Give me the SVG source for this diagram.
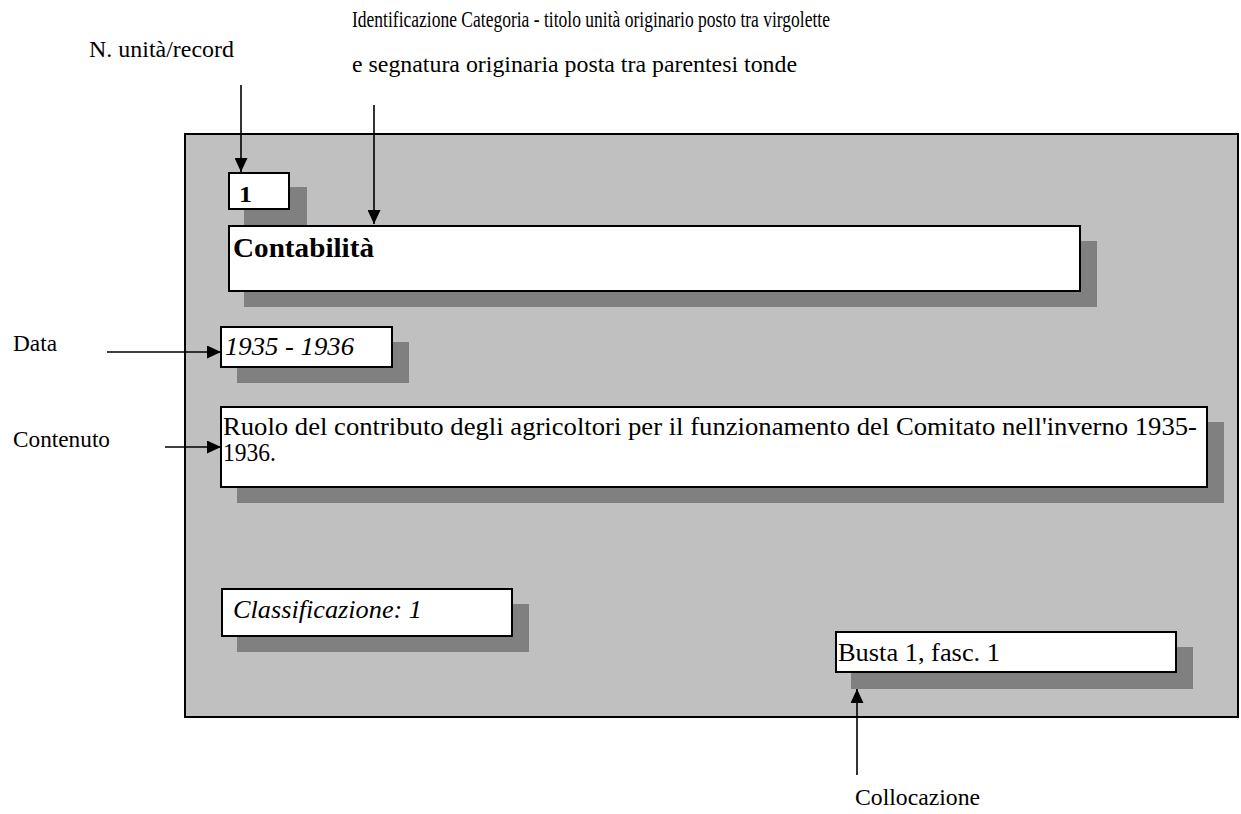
<svg xmlns="http://www.w3.org/2000/svg" width="1241" height="814" viewBox="0 0 1241 814">
<style>
text{font-family:"Liberation Serif","Times New Roman",serif;fill:#000}
.lbl{font-size:23px}
.box{fill:#fff;stroke:#000;stroke-width:2}
.sh{fill:#808080}
.t{font-size:25px}
.conn line{stroke:#000;stroke-width:1.6}
</style>
<defs>
<marker id="ah" viewBox="0 0 14 13" refX="14" refY="6.5" markerWidth="14" markerHeight="13" markerUnits="userSpaceOnUse" orient="auto">
<path d="M0,0 L14,6.5 L0,13 Z" fill="#000"/>
</marker>
</defs>
<rect id="panel" x="185" y="134" width="1053" height="583" fill="#c0c0c0" stroke="#000" stroke-width="2"/>
<g id="n-record">
<rect class="sh" x="244" y="187" width="63" height="40"/>
<rect class="box" x="229" y="173" width="60" height="36"/>
<text x="239" y="202" font-weight="bold" font-size="24" textLength="13" lengthAdjust="spacingAndGlyphs">1</text>
</g>
<g id="n-categoria">
<rect class="sh" x="244" y="241" width="853" height="66"/>
<rect class="box" x="229" y="226" width="851" height="65"/>
<text x="233" y="257" font-weight="bold" font-size="28" textLength="141" lengthAdjust="spacingAndGlyphs">Contabilità</text>
</g>
<g id="n-data">
<rect class="sh" x="237" y="342" width="172" height="41"/>
<rect class="box" x="221" y="327" width="171" height="40"/>
<text x="225" y="355" font-style="italic" font-size="26" textLength="129" lengthAdjust="spacingAndGlyphs">1935 - 1936</text>
</g>
<g id="n-contenuto">
<rect class="sh" x="237" y="422" width="987" height="81"/>
<rect class="box" x="221" y="407" width="986" height="80"/>
<text x="223" y="435" class="t" textLength="974" lengthAdjust="spacingAndGlyphs">Ruolo del contributo degli agricoltori per il funzionamento del Comitato nell'inverno 1935-</text>
<text x="223" y="461" class="t" textLength="53" lengthAdjust="spacingAndGlyphs">1936.</text>
</g>
<g id="n-classificazione">
<rect class="sh" x="237" y="604" width="292" height="48"/>
<rect class="box" x="222" y="589" width="290" height="47"/>
<text x="233" y="618" class="t" font-style="italic" textLength="189" lengthAdjust="spacingAndGlyphs">Classificazione: 1</text>
</g>
<g id="n-collocazione">
<rect class="sh" x="851" y="647" width="342" height="42"/>
<rect class="box" x="836" y="632" width="340" height="40"/>
<text x="838" y="661" class="t" textLength="162" lengthAdjust="spacingAndGlyphs">Busta 1, fasc. 1</text>
</g>
<g id="labels">
<text class="lbl" x="352" y="27" textLength="478" lengthAdjust="spacingAndGlyphs">Identificazione Categoria - titolo unità originario posto tra virgolette</text>
<text class="lbl" x="352" y="72" textLength="445" lengthAdjust="spacingAndGlyphs">e segnatura originaria posta tra parentesi tonde</text>
<text class="lbl" x="89" y="57" textLength="145" lengthAdjust="spacingAndGlyphs">N. unità/record</text>
<text class="lbl" x="13" y="351" textLength="44" lengthAdjust="spacingAndGlyphs">Data</text>
<text class="lbl" x="13" y="447" textLength="97" lengthAdjust="spacingAndGlyphs">Contenuto</text>
<text class="lbl" x="855" y="805" textLength="125" lengthAdjust="spacingAndGlyphs">Collocazione</text>
</g>
<g class="conn" id="connectors">
<line x1="241" y1="85" x2="241" y2="172" marker-end="url(#ah)"/>
<line x1="374" y1="105" x2="374" y2="224" marker-end="url(#ah)"/>
<line x1="107" y1="352" x2="221" y2="352" marker-end="url(#ah)"/>
<line x1="165" y1="447" x2="221" y2="447" marker-end="url(#ah)"/>
<line x1="857" y1="775" x2="857" y2="689" marker-end="url(#ah)"/>
</g>
</svg>
